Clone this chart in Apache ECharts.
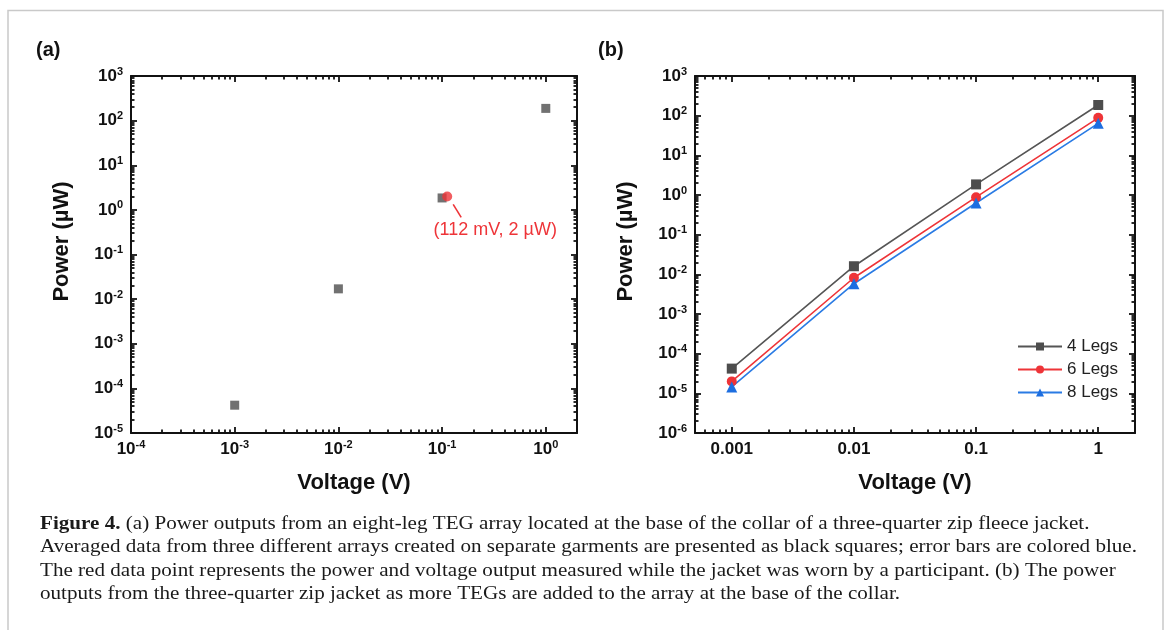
<!DOCTYPE html>
<html><head><meta charset="utf-8">
<script src="https://cdn.jsdelivr.net/npm/echarts@6/dist/echarts.min.js"></script>
<style>html,body{margin:0;padding:0;background:#fff}#c{width:1170px;height:630px}</style>
</head><body><div id="c"></div>
<script>
// ---------- data ----------
const voltages = [0.001, 0.01, 0.1, 1];
const powerAvg8Legs = [4.2e-5, 0.017, 1.85, 188];
const wornPoint = [0.112, 2.0];
const wornLabel = '(112 mV, 2 µW)';
const power4Legs = [4.2e-5, 0.016, 1.85, 186];
const power6Legs = [2.0e-5, 0.0082, 0.88, 88];
const power8Legs = [1.45e-5, 0.0058, 0.63, 64];
const legendNames = ['4 Legs', '6 Legs', '8 Legs'];
const xTicksA = [1e-4, 1e-3, 1e-2, 1e-1, 1];
const yTicksA = [1e-5, 1e-4, 1e-3, 1e-2, 1e-1, 1, 10, 100, 1000];
const xTicksB = [0.001, 0.01, 0.1, 1];
const yTicksB = [1e-6, 1e-5, 1e-4, 1e-3, 1e-2, 1e-1, 1, 10, 100, 1000];
const axisTitleX = 'Voltage (V)';
const axisTitleY = 'Power (µW)';
const panelLabels = ['(a)', '(b)'];
const captionBold = 'Figure 4.';
const captionLines = [
  ' (a) Power outputs from an eight-leg TEG array located at the base of the collar of a three-quarter zip fleece jacket.',
  'Averaged data from three different arrays created on separate garments are presented as black squares; error bars are colored blue.',
  'The red data point represents the power and voltage output measured while the jacket was worn by a participant. (b) The power',
  'outputs from the three-quarter zip jacket as more TEGs are added to the array at the base of the collar.'
];

// ---------- style ----------
const FONT = '"Liberation Sans", Arial, sans-serif';
const SERIF = '"Liberation Serif", "Times New Roman", serif';
const INK = '#111';
const GA = {left: 131, top: 76, width: 446, height: 357};
const GB = {left: 695, top: 76, width: 440, height: 357};

function minorValues(min, max) {
  const out = [];
  const d0 = Math.floor(Math.log10(min)) - 1, d1 = Math.ceil(Math.log10(max));
  for (let d = d0; d <= d1; d++) {
    for (let k = 2; k <= 9; k++) {
      const v = Number((k * Math.pow(10, d)).toPrecision(6));
      if (v > min * 1.0001 && v < max * 0.9999) out.push(v);
    }
  }
  return out;
}
const rich = {
  b: {fontSize: 17, fontWeight: 'bold', fontFamily: FONT, color: INK, lineHeight: 20},
  s: {fontSize: 11, fontWeight: 'bold', fontFamily: FONT, color: INK, verticalAlign: 'top', lineHeight: 11}
};
function supFmt(v) { return '{b|10}{s|' + Math.round(Math.log10(v)) + '}'; }
function plainFmt(v) { return '{b|' + String(Number(v.toPrecision(6))) + '}'; }

function axisSet(dim, grid, min, max, majors, fmt, nameGap, namePad) {
  const pos = dim === 'x' ? ['bottom', 'top'] : ['left', 'right'];
  const minors = minorValues(min, max);
  const base = {
    type: 'log', logBase: 10, gridIndex: grid, min: min, max: max,
    splitLine: {show: false}, minorTick: {show: false}, minorSplitLine: {show: false},
    axisLine: {show: false, onZero: false}, axisTick: {show: false}, axisLabel: {show: false}, silent: true
  };
  const tick = (vals, len) => ({show: true, inside: true, length: len, customValues: vals, lineStyle: {color: INK, width: 1.8}});
  const line = {show: true, onZero: false, lineStyle: {color: INK, width: 2}};
  return [
    Object.assign({}, base, {
      position: pos[0], axisLine: line, axisTick: tick(majors, 6),
      axisLabel: {show: true, customValues: majors, formatter: fmt, rich: rich, margin: dim === 'x' ? 6 : 8},
      name: dim === 'x' ? axisTitleX : axisTitleY, nameLocation: 'middle', nameGap: nameGap,
      nameTextStyle: {fontSize: 22, fontWeight: 'bold', color: INK, fontFamily: FONT, padding: namePad}
    }),
    Object.assign({}, base, {position: pos[1], axisLine: line, axisTick: tick(majors, 6)}),
    Object.assign({}, base, {position: pos[0], axisTick: tick(minors, 3.5)}),
    Object.assign({}, base, {position: pos[1], axisTick: tick(minors, 3.5)})
  ];
}

const xAxes = [].concat(
  axisSet('x', 0, 1e-4, 2, xTicksA, supFmt, 39, 0),
  axisSet('x', 1, 5e-4, 2, xTicksB, plainFmt, 39, 0)
);
const yAxes = [].concat(
  axisSet('y', 0, 1e-5, 1000, yTicksA, supFmt, 58, [0, 0, 0, 26]),
  axisSet('y', 1, 1e-6, 1000, yTicksB, supFmt, 58, [0, 0, 0, 26])
);

const pairs = arr => voltages.map((v, i) => [v, arr[i]]);
const RED = '#ee3438', BLUE = '#2a7be4', GRAY = '#4d4d4d';

// caption scaling (condensed look)
const CAP_SIZE = 19;
const ctx = document.createElement('canvas').getContext('2d');
ctx.font = CAP_SIZE + 'px ' + SERIF;
const capScale = 1097 / ctx.measureText(captionLines[1]).width;

const graphics = [
  {type: 'polyline', shape: {points: [[8, 640], [8, 10.5], [1163, 10.5], [1163, 640]]}, style: {stroke: '#c9c9c9', lineWidth: 1.5, fill: null}, silent: true},
  {type: 'text', x: 36, y: 50, style: {text: panelLabels[0], font: 'bold 20px ' + FONT, fill: INK, verticalAlign: 'middle'}},
  {type: 'text', x: 598, y: 50, style: {text: panelLabels[1], font: 'bold 20px ' + FONT, fill: INK, verticalAlign: 'middle'}}
];
captionLines.forEach((t, i) => {
  graphics.push({
    type: 'text', x: 40, y: 524 + i * 23.5, scaleX: capScale, silent: true,
    style: {
      text: i === 0 ? '{bb|' + captionBold + '}' + t : t,
      font: CAP_SIZE + 'px ' + SERIF, fill: '#1a1a1a', verticalAlign: 'middle',
      rich: {bb: {fontWeight: 'bold', fontSize: CAP_SIZE, fontFamily: SERIF, fill: '#1a1a1a'}}
    }
  });
});

const option = {
  animation: false,
  backgroundColor: '#fff',
  grid: [
    Object.assign({containLabel: false}, GA),
    Object.assign({containLabel: false}, GB)
  ],
  xAxis: xAxes,
  yAxis: yAxes,
  legend: {
    data: legendNames, orient: 'vertical', left: 1017, top: 338, padding: 0,
    itemWidth: 44, itemHeight: 10, itemGap: 6,
    textStyle: {fontSize: 17, color: '#222', fontFamily: FONT, lineHeight: 17},
    selectedMode: false
  },
  series: [
    {type: 'scatter', name: 'avg', xAxisIndex: 0, yAxisIndex: 0, data: pairs(powerAvg8Legs),
     symbol: 'rect', symbolSize: 9, itemStyle: {color: GRAY}, z: 3},
    {type: 'scatter', name: 'worn', xAxisIndex: 0, yAxisIndex: 0, data: [wornPoint],
     symbol: 'circle', symbolSize: 10, itemStyle: {color: RED}, z: 4},
    {type: 'custom', name: 'annot', xAxisIndex: 0, yAxisIndex: 0, data: [wornPoint], z: 5, silent: true,
     renderItem: (params, api) => {
       const p = api.coord([api.value(0), api.value(1)]);
       return {type: 'group', children: [
         {type: 'line', shape: {x1: p[0] + 6, y1: p[1] + 8, x2: p[0] + 14, y2: p[1] + 21}, style: {stroke: RED, lineWidth: 1.6}},
         {type: 'text', style: {text: wornLabel, x: p[0] + 48, y: p[1] + 34, align: 'center', verticalAlign: 'middle', fill: RED, font: '18px ' + FONT}}
       ]};
     }},
    {type: 'line', name: legendNames[0], xAxisIndex: 4, yAxisIndex: 4, data: pairs(power4Legs),
     symbol: 'rect', symbolSize: 10, lineStyle: {color: '#555', width: 1.6}, itemStyle: {color: GRAY}},
    {type: 'line', name: legendNames[1], xAxisIndex: 4, yAxisIndex: 4, data: pairs(power6Legs),
     symbol: 'circle', symbolSize: 10, lineStyle: {color: RED, width: 1.6}, itemStyle: {color: RED}},
    {type: 'line', name: legendNames[2], xAxisIndex: 4, yAxisIndex: 4, data: pairs(power8Legs),
     symbol: 'triangle', symbolSize: 11, lineStyle: {color: BLUE, width: 1.6}, itemStyle: {color: '#1d6ee0'}}
  ],
  graphic: graphics
};
const chart = echarts.init(document.getElementById('c'), null, {renderer: 'canvas'});
chart.setOption(option);
</script></body></html>
